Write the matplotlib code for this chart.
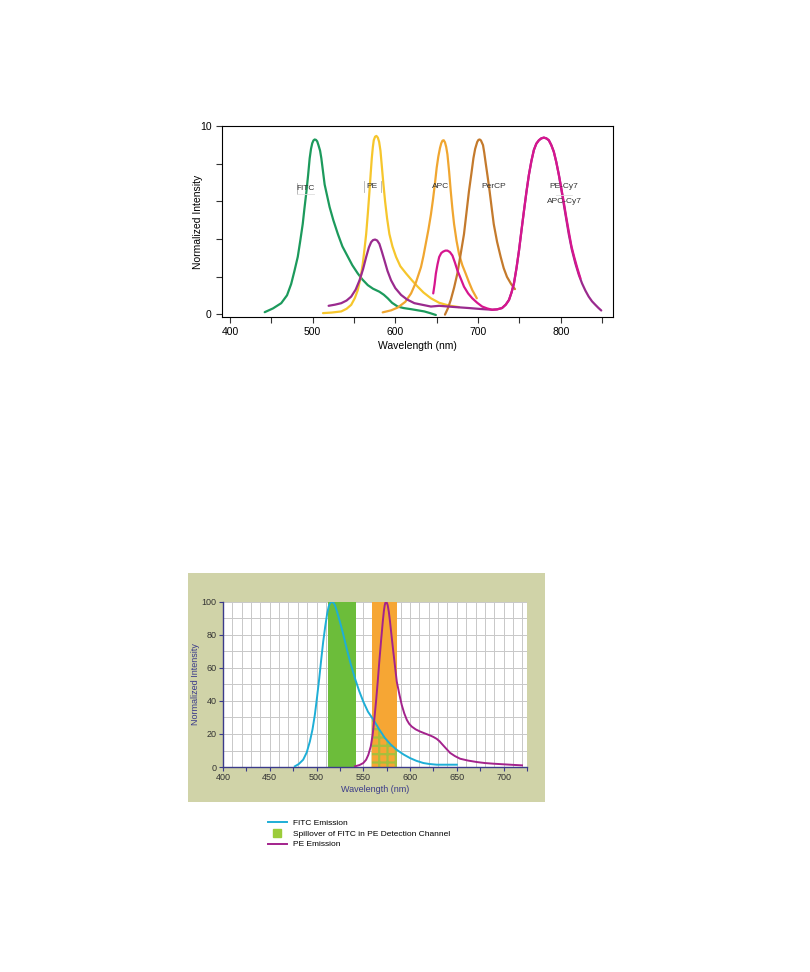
import matplotlib.pyplot as plt
import numpy as np
from matplotlib.lines import Line2D

# ---- top chart data (wavelength nm, normalized intensity 0-10) ----
fitc_x = [442, 452, 462, 469, 474, 478, 482, 485, 488, 490, 492.4, 494.5, 496.4, 498, 499.5, 501, 502.4, 504,
          505.5, 507, 509, 510.5, 512.5, 514.5, 517.5, 520.5, 525, 530.5, 536, 542.6, 548, 554.6, 560, 566.7,
          573, 580.7, 586, 590.8, 596, 602.8, 610, 619, 627, 635, 642, 649]
fitc_y = [0.1, 0.3, 0.58, 1.0, 1.6, 2.3, 3.05, 3.9, 4.8, 5.6, 6.5, 7.4, 8.3, 8.8, 9.1, 9.25, 9.3, 9.28,
          9.2, 9.0, 8.7, 8.3, 7.6, 6.9, 6.3, 5.7, 5.0, 4.26, 3.6, 3.05, 2.6, 2.16, 1.85, 1.54,
          1.35, 1.19, 1.03, 0.84, 0.6, 0.4, 0.32, 0.26, 0.2, 0.14, 0.05, -0.05]

pe_x = [512.5, 523, 534.6, 541, 546.6, 551, 554.6, 558, 560.6, 562.8, 564.7, 566.8, 568.7, 570.2, 571.5, 572.8,
        573.9, 575.5, 577.1, 578.8, 580.4, 582, 583.5, 585.5, 587.6, 590, 592.8, 596.5, 600.9, 606, 613, 620,
        627, 634, 643, 653, 665, 677]
pe_y = [0.05, 0.08, 0.14, 0.28, 0.49, 0.85, 1.28, 1.95, 2.68, 3.5, 4.26, 5.4, 6.54, 7.5, 8.3, 8.9,
        9.26, 9.45, 9.49, 9.4, 9.17, 8.7, 7.95, 6.95, 6.0, 5.1, 4.26, 3.6, 3.04, 2.55, 2.16, 1.8,
        1.46, 1.15, 0.84, 0.6, 0.45, 0.37]

apc_x = [584.7, 595, 603, 612, 619, 625, 631, 634, 637, 640, 643, 645.5, 648, 650, 652, 654, 655.5, 657, 658.5,
         660, 661.5, 663, 665, 667, 669, 671, 674, 677, 681, 685, 689, 693, 698.5]
apc_y = [0.09, 0.2, 0.35, 0.65, 1.1, 1.7, 2.5, 3.1, 3.8, 4.5, 5.3, 6.1, 7.0, 7.8, 8.4, 8.85, 9.1, 9.24, 9.26,
         9.15, 8.9, 8.5, 7.6, 6.54, 5.6, 4.8, 3.9, 3.2, 2.6, 2.16, 1.7, 1.28, 0.84]

percp_x = [660, 663.5, 667, 671, 675, 679, 683, 686, 689, 692, 694.4, 696.5, 699, 700.5, 702, 703.5, 706, 707.5,
           709, 711.5, 714, 716.5, 719, 723, 727.4, 731, 735, 740, 744.6]
percp_y = [-0.03, 0.3, 0.75, 1.4, 2.16, 3.2, 4.26, 5.4, 6.54, 7.5, 8.3, 8.8, 9.17, 9.28, 9.3, 9.25, 9.0, 8.6,
           8.12, 7.35, 6.54, 5.65, 4.79, 3.85, 3.04, 2.45, 1.98, 1.6, 1.33]

pecy7_x = [519.3, 527, 534.6, 541, 546.6, 552, 556.7, 561, 564.7, 568, 570.7, 573, 575.5, 578, 580.7, 583.5,
           586.8, 590.5, 594.8, 600, 606.9, 614, 623, 633, 643, 653, 670, 689, 703, 717, 723, 729, 733.5,
           737.4, 740.5, 743.4, 746.5, 749.5, 752.5, 755.5, 758.5, 761.5, 764.5, 767.5, 770.5, 773.6, 776.5,
           779.6, 782.6, 785.6, 788.6, 791.6, 794.6, 797.7, 800.7, 803.7, 806.7, 809.7, 813.5, 817.8, 821.8,
           825.8, 829.8, 833.8, 837.8, 841.9, 845.5, 849]
pecy7_y = [0.44, 0.5, 0.58, 0.72, 0.93, 1.3, 1.8, 2.4, 3.04, 3.55, 3.83, 3.94, 3.97, 3.92, 3.74, 3.35,
           2.86, 2.3, 1.8, 1.38, 1.02, 0.78, 0.58, 0.49, 0.4, 0.44, 0.38, 0.32, 0.27, 0.23, 0.25, 0.32, 0.5,
           0.75, 1.15, 1.63, 2.45, 3.38, 4.45, 5.49, 6.5, 7.42, 8.15, 8.74, 9.08, 9.26, 9.36,
           9.4, 9.36, 9.26, 9.0, 8.65, 8.1, 7.42, 6.65, 5.84, 5.05, 4.26, 3.42, 2.68, 2.1,
           1.63, 1.25, 0.93, 0.68, 0.49, 0.33, 0.19]

apccy7_x = [645.8, 647.5, 649, 651, 653, 655.5, 657.9, 660.5, 663, 666, 669, 672, 675, 679, 683, 688, 693, 699,
            705, 711, 717, 723, 729, 733.5, 737.4, 740.5, 743.4, 746.5, 749.5, 752.5, 755.5, 758.5, 761.5,
            764.5, 767.5, 770.5, 773.6, 776.5, 779.6, 782.6, 785.6, 788.6, 791.6, 794.6, 797.7, 800.7,
            803.7, 806.7, 809.7, 813, 816.5, 820, 823.8]
apccy7_y = [1.1, 1.6, 2.16, 2.65, 3.04, 3.25, 3.33, 3.38, 3.38, 3.3, 3.12, 2.75, 2.33, 1.9, 1.46, 1.1, 0.84, 0.6,
            0.4, 0.3, 0.23, 0.25, 0.32, 0.5, 0.75, 1.15, 1.63, 2.45, 3.38, 4.45, 5.49, 6.5, 7.42,
            8.15, 8.74, 9.08, 9.26, 9.36, 9.4, 9.36, 9.26, 9.0, 8.65, 8.1, 7.42, 6.7,
            5.95, 5.15, 4.4, 3.6, 3.0, 2.45, 1.9]

# ---- bottom chart data (wavelength nm, normalized intensity 0-100) ----
fitc_em_x = [476.8, 481, 485.7, 489.5, 492.9, 495.7, 498.2, 500.6, 502.9, 505, 507.1, 509.3, 511.4, 513, 514.3,
             515.5, 516.5, 518, 519.7, 522, 525, 528.5, 532.2, 536.5, 541.1, 545.5, 550, 555, 561, 567,
             573.2, 579, 585.8, 593, 600, 607, 614.3, 621, 628.6, 640, 650]
fitc_em_y = [0.4, 1.8, 4.4, 8.8, 15.5, 22.8, 31.6, 42.5, 53.7, 65, 75.8, 85.2, 93, 97.2, 99,
             99.8, 100, 99.6, 98, 94, 88, 80.5, 71.8, 62.5, 53.7, 46.2, 39.6, 33.5, 28.5, 22.8,
             17.5, 13.8, 10.4, 7.6, 5.4, 3.7, 2.4, 1.8, 1.4, 1.4, 1.4]

pe_em_x = [541.1, 546, 550, 553, 555.4, 558, 560, 561.8, 563.6, 565.4, 567.1, 569, 570.8, 572, 572.9, 573.6,
           574.3, 575.2, 576.1, 577.3, 578.6, 580.3, 582.1, 584, 585.8, 588.5, 591.1, 593.8, 596.5, 599,
           601.8, 606, 610.7, 616, 621.5, 625, 628.6, 631.5, 634, 638.5, 642.9, 648, 653.6, 662, 671.5, 680,
           689.3, 698, 707, 713, 719.7]
pe_em_y = [0.4, 1.2, 2.4, 4.4, 7.4, 12.5, 19.5, 29, 39.6, 51.5, 63.8, 76.5, 87.9, 94.5, 98, 99.5,
           100, 99.5, 98, 94, 87.9, 79, 69.8, 60.5, 51.7, 44.2, 37.6, 32.5, 28.6, 26.2,
           24.5, 22.8, 21.5, 20.3, 19.1, 18.2, 17.0, 15.6, 14.0, 11.2, 8.5, 6.6, 5.0, 3.9, 3.0, 2.4,
           2.0, 1.7, 1.4, 1.2, 1.0]

fitc_band = (512, 542)
pe_band = (559, 586)

legend_labels = ['FITC Emission', 'Spillover of FITC in PE Detection Channel', 'PE Emission']

fig = plt.figure(figsize=(8.1, 9.72), dpi=100)
plt.rcParams['font.family'] = ['Liberation Sans', 'DejaVu Sans']

# ================= top chart =================
ax1 = fig.add_axes([0.274, 0.674, 0.483, 0.196])
lw = 1.6
kw = dict(lw=lw, solid_joinstyle='round', solid_capstyle='round')
ax1.plot(fitc_x, fitc_y, color='#1c9a5c', **kw)
ax1.plot(pe_x, pe_y, color='#f6c62c', **kw)
ax1.plot(apc_x, apc_y, color='#f0a630', **kw)
ax1.plot(percp_x, percp_y, color='#c47a2c', **kw)
ax1.plot(pecy7_x, pecy7_y, color='#9a2a8e', **kw)
ax1.plot(apccy7_x, apccy7_y, color='#d6168e', **kw)

ax1.set_xlim(390.3, 863.4)
ax1.set_ylim(-0.15, 10.0)
ax1.set_xticks(np.arange(400, 851, 50))
ax1.set_xticklabels(['400', '', '500', '', '600', '', '700', '', '800', ''])
ax1.set_yticks([0, 2, 4, 6, 8, 10])
ax1.set_yticklabels(['0', '', '', '', '', '10'])
ax1.tick_params(labelsize=7.5, length=4, width=0.8, direction='out', color='#333333')
for s in ax1.spines.values():
    s.set_linewidth(0.8)
ax1.set_xlabel('Wavelength (nm)', fontsize=7.5, labelpad=3)
ax1.set_ylabel('Normalized Intensity', fontsize=7.5, labelpad=-2)

lab_kw = dict(fontsize=6, ha='center', va='center', color='#333333')
ax1.text(492, 6.7, 'FITC', **lab_kw)
ax1.text(572, 6.8, 'PE', **lab_kw)
ax1.text(655, 6.8, 'APC', **lab_kw)
ax1.text(719, 6.8, 'PerCP', **lab_kw)
ax1.text(804, 6.8, 'PE-Cy7', **lab_kw)
ax1.text(804, 6.0, 'APC-Cy7', **lab_kw)
# faint bracket marks around the FITC / PE labels
ax1.plot([481, 481], [6.4, 7.0], color='#b0b0b0', lw=0.6)
ax1.plot([481, 502], [6.4, 6.4], color='#dddddd', lw=0.6)
ax1.plot([562, 562], [6.5, 7.1], color='#b0b0b0', lw=0.6)
ax1.plot([583, 583], [6.5, 7.1], color='#b0b0b0', lw=0.6)
ax1.plot([794, 814], [6.35, 6.35], color='#dddddd', lw=0.6)

# ================= bottom chart =================
panel = fig.add_axes([0.232, 0.175, 0.441, 0.2356])
panel.set_facecolor('#d0d3a8')
panel.set_xticks([])
panel.set_yticks([])
for s in panel.spines.values():
    s.set_visible(False)

ax2 = fig.add_axes([0.2753, 0.2109, 0.3753, 0.1698])
ax2.set_facecolor('white')
ax2.set_xlim(400, 725)
ax2.set_ylim(0, 100)

# grid
for gx in np.arange(410, 725, 10):
    ax2.axvline(gx, color='#c8c8c8', lw=0.7, zorder=0)
for gy in np.arange(10, 101, 10):
    ax2.axhline(gy, color='#c8c8c8', lw=0.7, zorder=0)

ax2.axvspan(*fitc_band, color='#6cbd3a', lw=0, zorder=1)
ax2.axvspan(*pe_band, color='#f6a634', lw=0, zorder=1)

# spillover area: FITC emission inside the PE band
sel = [i for i, v in enumerate(fitc_em_x) if pe_band[0] < v < pe_band[1]]
sx = [pe_band[0]] + [fitc_em_x[i] for i in sel] + [pe_band[1]]
sy = [float(np.interp(pe_band[0], fitc_em_x, fitc_em_y))] + [fitc_em_y[i] for i in sel] + \
     [float(np.interp(pe_band[1], fitc_em_x, fitc_em_y))]
plt.rcParams['hatch.linewidth'] = 1.6
ax2.fill_between(sx, 0, sy, facecolor='#f6a634', edgecolor='#a6bf3c', hatch='++', lw=0, zorder=2)

ax2.plot(fitc_em_x, fitc_em_y, color='#1eaed6', lw=1.4, zorder=3, solid_joinstyle='round')
ax2.plot(pe_em_x, pe_em_y, color='#a3228c', lw=1.4, zorder=3, solid_joinstyle='round')

ax2.set_xticks(np.arange(400, 726, 25))
ax2.set_xticklabels([str(v) if v % 50 == 0 else '' for v in range(400, 726, 25)])
ax2.set_yticks(np.arange(0, 101, 20))
ax2.tick_params(labelsize=6.5, length=3, width=0.8, direction='out', color='#3b3b8a', labelcolor='#333333', pad=1.5)
for side in ['top', 'right']:
    ax2.spines[side].set_visible(False)
for side in ['left', 'bottom']:
    ax2.spines[side].set_color('#3b3b8a')
    ax2.spines[side].set_linewidth(1.0)
ax2.set_xlabel('Wavelength (nm)', fontsize=6.5, color='#3b3b8a', labelpad=2)
ax2.set_ylabel('Normalized Intensity', fontsize=6.5, color='#3b3b8a', labelpad=1)

# legend below the panel
handles = [Line2D([], [], color='#1eaed6', lw=1.4),
           Line2D([], [], marker='s', color='#9ccc3a', lw=0, markersize=6),
           Line2D([], [], color='#a3228c', lw=1.4)]
fig.legend(handles, legend_labels, loc='upper left', bbox_to_anchor=(0.322, 0.165),
           frameon=False, fontsize=6, handlelength=2.2, labelspacing=0.35, handletextpad=0.8)

fig.savefig('out.png', dpi=100)
